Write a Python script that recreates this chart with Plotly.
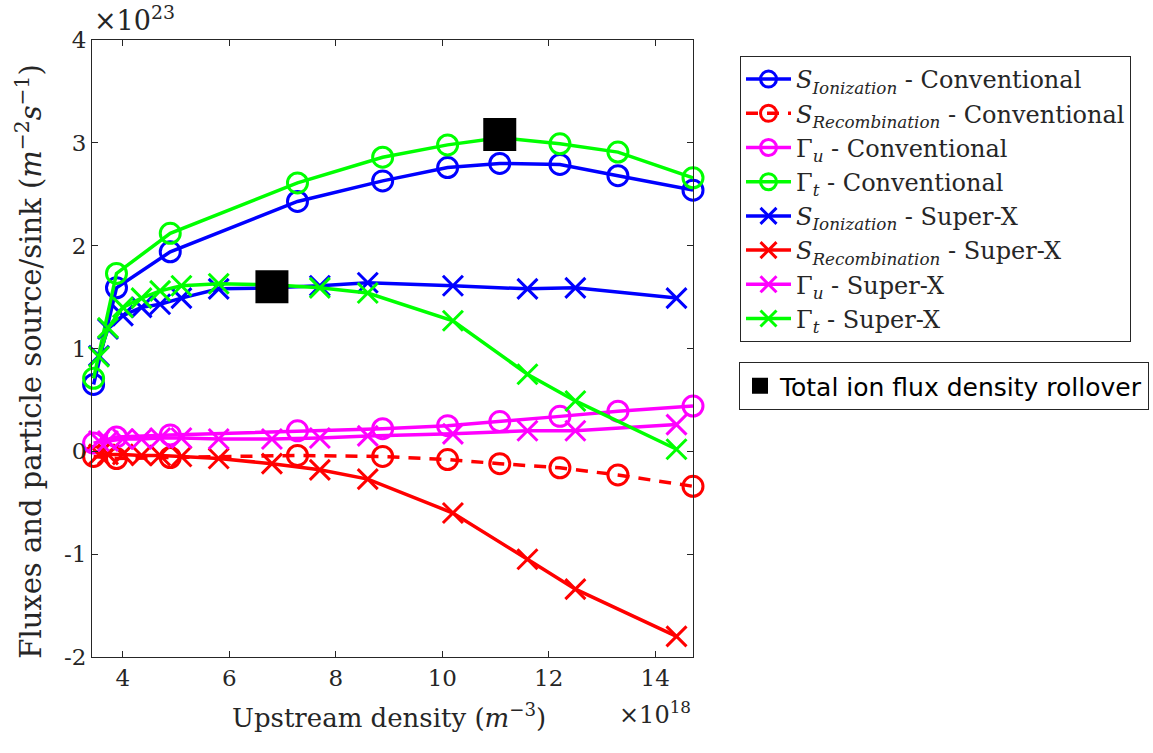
import plotly.graph_objects as go

# Upstream density (x 1e18 m^-3)
x_conv = [3.45, 3.88, 4.89, 7.28, 8.88, 10.10, 11.08, 12.21, 13.30, 14.71]
x_sx = [3.55, 3.72, 4.0, 4.35, 4.7, 5.1, 5.8, 6.8, 7.7, 8.6, 10.2, 11.6, 12.5, 14.4]

# Fluxes (x 1e23 m^-2 s^-1)
s_ion_conv = [0.65, 1.59, 1.94, 2.43, 2.63, 2.76, 2.80, 2.79, 2.68, 2.54]
s_rec_conv = [-0.05, -0.07, -0.06, -0.04, -0.05, -0.08, -0.12, -0.16, -0.23, -0.34]
gu_conv = [0.08, 0.14, 0.16, 0.20, 0.22, 0.25, 0.29, 0.34, 0.39, 0.44]
gt_conv = [0.71, 1.73, 2.12, 2.61, 2.86, 2.98, 3.05, 2.99, 2.91, 2.66]

s_ion_sx = [0.93, 1.19, 1.32, 1.40, 1.43, 1.49, 1.58, 1.59, 1.61, 1.64, 1.61, 1.58, 1.59, 1.49]
s_rec_sx = [-0.03, -0.03, -0.03, -0.04, -0.04, -0.05, -0.07, -0.12, -0.18, -0.27, -0.60, -1.05, -1.34, -1.80]
gu_sx = [0.10, 0.10, 0.12, 0.12, 0.13, 0.13, 0.12, 0.12, 0.13, 0.15, 0.17, 0.20, 0.20, 0.26]
gt_sx = [0.92, 1.20, 1.40, 1.49, 1.56, 1.61, 1.63, 1.62, 1.59, 1.54, 1.27, 0.75, 0.49, 0.02]

rollover_x = [11.08, 6.8]
rollover_y = [3.08, 1.60]

x_ticks = [4, 6, 8, 10, 12, 14]
y_ticks = [-2, -1, 0, 1, 2, 3, 4]

BLUE, RED, MAG, GREEN = "#0000FF", "#FF0000", "#FF00FF", "#00FF00"
AX = "#262626"
SERIF = "DejaVu Serif"

series = [
    ("<i>S</i><sub><i>Ionization</i></sub> - Conventional", x_conv, s_ion_conv, BLUE, "circle-open", "solid"),
    ("<i>S</i><sub><i>Recombination</i></sub> - Conventional", x_conv, s_rec_conv, RED, "circle-open", "12px,9px"),
    ("Γ<sub><i>u</i></sub> - Conventional", x_conv, gu_conv, MAG, "circle-open", "solid"),
    ("Γ<sub><i>t</i></sub> - Conventional", x_conv, gt_conv, GREEN, "circle-open", "solid"),
    ("<i>S</i><sub><i>Ionization</i></sub> - Super-X", x_sx, s_ion_sx, BLUE, "x-thin-open", "solid"),
    ("<i>S</i><sub><i>Recombination</i></sub> - Super-X", x_sx, s_rec_sx, RED, "x-thin-open", "solid"),
    ("Γ<sub><i>u</i></sub> - Super-X", x_sx, gu_sx, MAG, "x-thin-open", "solid"),
    ("Γ<sub><i>t</i></sub> - Super-X", x_sx, gt_sx, GREEN, "x-thin-open", "solid"),
]

fig = go.Figure()
for name, xs, ys, col, sym, dash in series:
    fig.add_trace(go.Scatter(
        x=xs, y=ys, name=name, mode="lines+markers",
        line=dict(color=col, width=3.5, dash=dash),
        marker=dict(symbol=sym, size=20,
                    color=col, line=dict(color=col, width=3)),
        cliponaxis=False, legend="legend",
    ))

fig.add_trace(go.Scatter(
    x=rollover_x, y=rollover_y, mode="markers", name="Total ion flux density rollover",
    marker=dict(symbol="square", size=33, color="black", line=dict(color="black", width=0)),
    cliponaxis=False, legend="legend2",
))

axis_common = dict(
    showline=True, linecolor=AX, linewidth=1, mirror="ticks",
    ticks="inside", ticklen=6, tickwidth=1, tickcolor=AX,
    showgrid=False, zeroline=False,
    tickfont=dict(family=SERIF, size=23, color=AX),
)

fig.update_layout(
    width=1153, height=753,
    margin=dict(l=92, r=460, t=40, b=96, autoexpand=False),
    paper_bgcolor="white", plot_bgcolor="white",
    xaxis=dict(range=[3.42, 14.71], tickvals=x_ticks, **axis_common),
    yaxis=dict(range=[-2, 4], tickvals=y_ticks, ticktext=[str(v) for v in y_ticks], **axis_common),
    showlegend=True,
    legend=dict(
        xref="container", yref="container",
        x=740 / 1153, y=1 - 56 / 753, xanchor="left", yanchor="top",
        bordercolor=AX, borderwidth=1, bgcolor="white",
        font=dict(family=SERIF, size=24, color=AX),
        itemwidth=45, tracegroupgap=0,
    ),
    legend2=dict(
        xref="container", yref="container",
        x=739 / 1153, y=1 - 362 / 753, xanchor="left", yanchor="top",
        bordercolor=AX, borderwidth=1, bgcolor="white",
        font=dict(family="DejaVu Sans", size=25, color="black"),
        itemwidth=30,
    ),
    annotations=[
        dict(text="Fluxes and particle source/sink (<i>m</i><sup>−2</sup><i>s</i><sup>−1</sup>)",
             xref="paper", yref="paper", x=-0.105, y=0.48, textangle=-90,
             xanchor="center", yanchor="middle", showarrow=False,
             font=dict(family=SERIF, size=29, color=AX)),
        dict(text="Upstream density (<i>m</i><sup>−3</sup>)",
             xref="paper", yref="paper", x=0.495, y=-0.095,
             xanchor="center", yanchor="middle", showarrow=False,
             font=dict(family=SERIF, size=26, color=AX)),
        dict(text="×10<sup>18</sup>",
             xref="paper", yref="paper", x=1.0, y=-0.09,
             xanchor="right", yanchor="middle", showarrow=False,
             font=dict(family=SERIF, size=24, color=AX)),
        dict(text="×10<sup>23</sup>",
             xref="paper", yref="paper", x=0.0, y=1.035,
             xanchor="left", yanchor="middle", showarrow=False,
             font=dict(family=SERIF, size=27, color=AX)),
    ],
)

fig.write_html("out.html", config={"displayModeBar": False},
               post_script="document.body.style.margin='0';")
